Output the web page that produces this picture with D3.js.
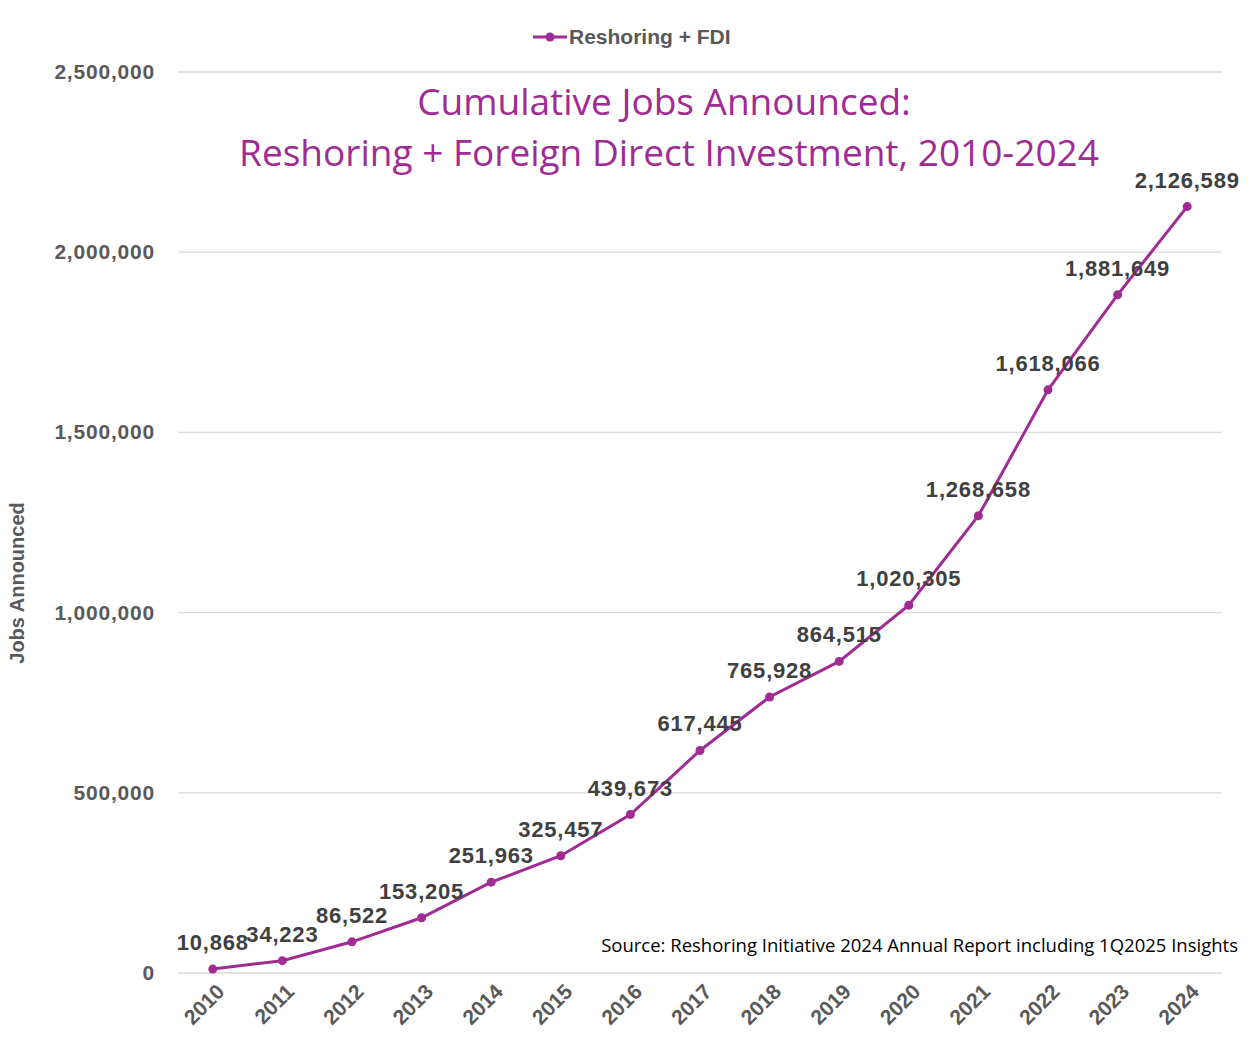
<!DOCTYPE html>
<html><head><meta charset="utf-8">
<script src="https://cdn.jsdelivr.net/npm/d3@7"></script>
<style>body{margin:0;background:#fff}</style></head>
<body><svg id="c" width="1254" height="1052"></svg>
<script>
const years = ["2010","2011","2012","2013","2014","2015","2016","2017","2018","2019","2020","2021","2022","2023","2024"];
const jobs = [10868,34223,86522,153205,251963,325457,439673,617445,765928,864515,1020305,1268658,1618066,1881649,2126589];
const yTicks = [0,500000,1000000,1500000,2000000,2500000];

const svg = d3.select("#c");
const col = "#A02B93", txt = "#595959";
const x = d3.scalePoint().domain(years).range([178,1222]).padding(0.5);
const y = d3.scaleLinear().domain([0,2500000]).range([973,72]);

svg.append("g").selectAll("line").data(yTicks).join("line")
  .attr("x1",178).attr("x2",1222).attr("y1",d=>y(d)).attr("y2",d=>y(d))
  .attr("stroke","#d9d9d9").attr("stroke-width",1.3);
svg.append("g").selectAll("text").data(yTicks).join("text")
  .attr("x",155).attr("y",d=>y(d)+7).attr("text-anchor","end")
  .attr("font-family","Liberation Sans").attr("font-weight","bold").attr("font-size",21).attr("letter-spacing",0.8).attr("fill",txt)
  .text(d=>d3.format(",")(d));
svg.append("g").selectAll("text").data(years).join("text")
  .attr("transform",d=>`translate(${x(d)+13},${993}) rotate(-45)`).attr("text-anchor","end")
  .attr("font-family","Liberation Sans").attr("font-weight","bold").attr("font-size",21).attr("fill",txt)
  .text(d=>d);
svg.append("text").attr("transform","translate(24,583) rotate(-90)").attr("text-anchor","middle")
  .attr("font-family","Liberation Sans").attr("font-weight","bold").attr("font-size",20).attr("fill",txt)
  .text("Jobs Announced");

const line = d3.line().x((d,i)=>x(years[i])).y(d=>y(d));
svg.append("path").datum(jobs).attr("d",line).attr("fill","none").attr("stroke",col).attr("stroke-width",3);
svg.append("g").selectAll("circle").data(jobs).join("circle")
  .attr("cx",(d,i)=>x(years[i])).attr("cy",d=>y(d)).attr("r",4.5).attr("fill",col);
svg.append("g").selectAll("text").data(jobs).join("text")
  .attr("x",(d,i)=>x(years[i])).attr("y",d=>y(d)-19).attr("text-anchor","middle")
  .attr("font-family","Liberation Sans").attr("font-weight","bold").attr("font-size",22).attr("letter-spacing",0.8).attr("fill","#404040")
  .text(d=>d3.format(",")(d));

// legend
svg.append("line").attr("x1",533).attr("x2",567).attr("y1",37).attr("y2",37).attr("stroke",col).attr("stroke-width",3);
svg.append("circle").attr("cx",550).attr("cy",37).attr("r",4.5).attr("fill",col);
svg.append("text").attr("x",569).attr("y",44).attr("font-family","Liberation Sans").attr("font-weight","bold")
  .attr("font-size",21).attr("fill",txt).text("Reshoring + FDI");

// title
const t = svg.append("text").attr("text-anchor","middle").attr("font-family","Open Sans").attr("font-size",37).attr("fill","#A02B93");
t.append("tspan").attr("x",664).attr("y",115).text("Cumulative Jobs Announced:");
t.append("tspan").attr("x",669).attr("y",166).text("Reshoring + Foreign Direct Investment, 2010-2024");

svg.append("text").attr("x",1238).attr("y",952).attr("text-anchor","end").attr("font-family","Open Sans")
  .attr("font-size",18.5).attr("fill","#000").text("Source: Reshoring Initiative 2024 Annual Report including 1Q2025 Insights");
</script></body></html>
